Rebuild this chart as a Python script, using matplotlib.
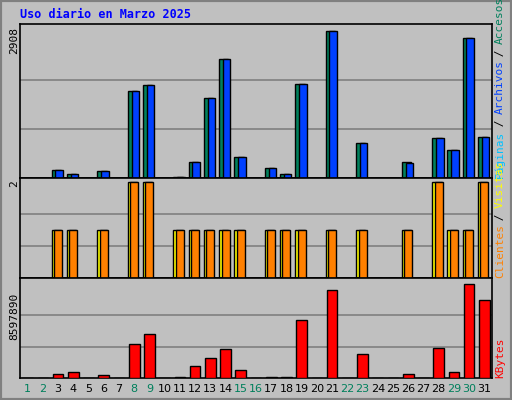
import matplotlib
matplotlib.use("Agg")
import matplotlib.pyplot as plt
from matplotlib.patches import Rectangle

days = list(range(1, 32))
weekend = [1, 2, 8, 9, 15, 16, 22, 23, 29, 30]
files = [0,0,160,80,0,140,0,1720,1840,0,20,320,1580,2350,420,0,200,80,1860,0,2908,0,690,0,0,300,0,790,550,2770,810]
hits = [0,0,160,80,0,140,0,1720,1840,0,20,320,1580,2350,420,0,200,80,1860,0,2908,0,690,0,0,320,0,790,550,2770,810]
visits = [0,0,1,1,0,1,0,2,2,0,1,1,1,1,1,0,1,1,1,0,1,0,1,0,0,1,0,2,1,1,2]
clients = visits[:]
kbytes = [0,0,370000,550000,0,280000,0,3140000,3980000,0,90000,1100000,1850000,2600000,740000,0,90000,90000,5270000,0,8040000,0,2220000,0,0,370000,0,2770000,550000,8597890,7100000]
max_top, max_mid, max_bot = 2908, 2, 8597890

W, H = 512, 400
fig = plt.figure(figsize=(W/100, H/100), dpi=100)
fig.patch.set_facecolor("#C0C0C0")
fig.add_artist(Rectangle((0, 0), 1, 1, transform=fig.transFigure, fill=False, ec="#808080", lw=3))
mono = "DejaVu Sans Mono"

def ax_at(x0, y0, x1, y1):
    ax = fig.add_axes([x0/W, 1-y1/H, (x1-x0)/W, (y1-y0)/H])
    ax.set_facecolor("#C0C0C0")
    ax.set_xlim(0.5, 31.5)
    ax.set_xticks([]); ax.set_yticks([])
    for s in ax.spines.values():
        s.set_linewidth(1.2)
    return ax

fig.text(20/W, 1-15/H, "Uso diario en Marzo 2025", color="#0000FF", fontsize=8.5,
         fontweight="bold", family=mono, va="center")

w = 0.62
off = 0.12
# top
ax = ax_at(20, 24, 492, 178)
ax.set_ylim(0, max_top*1.045)
for f in (1/3, 2/3):
    ax.axhline(max_top*f, color="#808080", lw=1.2, zorder=0)
ax.bar([d-off for d in days], hits, w, color="#00805C", ec="black", lw=1, zorder=2)
ax.bar([d+off*0.6 for d in days], files, w*0.8, color="#0040FF", ec="black", lw=1, zorder=3)
fig.text(14/W, 1-40/H, str(max_top), rotation=90, fontsize=8, family=mono, ha="center", va="center")
# mid
ax = ax_at(20, 178, 492, 278)
ax.set_ylim(0, max_mid*1.045)
for f in (1/3, 2/3):
    ax.axhline(max_mid*f, color="#808080", lw=1.2, zorder=0)
ax.bar([d-off for d in days], visits, w, color="#FFFF00", ec="black", lw=1, zorder=2)
ax.bar(days, clients, w*0.85, color="#FF8000", ec="black", lw=1, zorder=3)
fig.text(14/W, 1-184/H, str(max_mid), rotation=90, fontsize=8, family=mono, ha="center", va="center")
# bottom
ax = ax_at(20, 278, 492, 378)
ax.set_ylim(0, max_bot*1.06)
for f in (1/3, 2/3):
    ax.axhline(max_bot*f, color="#808080", lw=1.2, zorder=0)
ax.bar(days, kbytes, 0.7, color="#FF0000", ec="black", lw=1, zorder=3)
fig.text(14/W, 1-316/H, str(max_bot), rotation=90, fontsize=8, family=mono, ha="center", va="center")
for d in days:
    x = 20 + (d - 0.5) / 31 * 472
    fig.text(x/W, 1-389/H, str(d), fontsize=8, family="DejaVu Sans", ha="center", va="center",
             color="#00805C" if d in weekend else "black")

# right labels (rotated, bottom-to-top)
def stack(parts, ybottom):
    y = ybottom
    for txt, col in parts:
        t = fig.text(500/W, 1-y/H, txt, rotation=90, fontsize=8, family=mono, color=col,
                     ha="center", va="bottom")
        y -= len(txt) * 6.4
stack([("Páginas", "#00C0FF"), (" / ", "black"), ("Archivos", "#0040FF"), (" / ", "black"), ("Accesos", "#00805C")], 178)
stack([("Clientes", "#FF8000"), (" / ", "black"), ("Visitas", "#FFFF00")], 278)
stack([("KBytes", "#FF0000")], 378)

fig.savefig("out.png", dpi=100, facecolor=fig.get_facecolor())
